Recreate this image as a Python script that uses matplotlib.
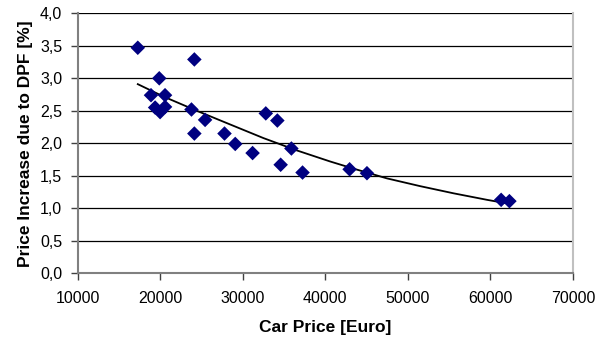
import matplotlib
matplotlib.use("Agg")
import matplotlib.pyplot as plt
from matplotlib.ticker import FuncFormatter

plt.rcParams['font.family'] = ['Liberation Sans', 'DejaVu Sans']

# car price [Euro] vs. price increase due to DPF [%]
car_price = [17300, 18900, 19900, 19400, 20000, 20600, 20600, 23800, 24150,
             24150, 25450, 27800, 29100, 31200, 32800, 34200, 34600, 35900,
             37250, 42950, 45050, 61300, 62300]
price_increase = [3.47, 2.74, 3.00, 2.55, 2.48, 2.56, 2.74, 2.52, 3.29,
                  2.15, 2.36, 2.15, 1.99, 1.85, 2.46, 2.35, 1.67, 1.92,
                  1.55, 1.60, 1.54, 1.13, 1.11]

# trendline
trend_x = [17300, 20400, 24450, 28480, 32520, 36570, 40600, 43430, 47480,
           51520, 55560, 59600, 62240]
trend_y = [2.91, 2.72, 2.50, 2.29, 2.08, 1.89, 1.72, 1.61, 1.46,
           1.34, 1.23, 1.13, 1.07]

x_ticks = [10000, 20000, 30000, 40000, 50000, 60000, 70000]
y_ticks = [0.0, 0.5, 1.0, 1.5, 2.0, 2.5, 3.0, 3.5, 4.0]

fig = plt.figure(figsize=(6.01, 3.45), dpi=100)
ax = fig.add_axes([77.5 / 601, 1 - 273.3 / 345, (573 - 77.5) / 601, (273.3 - 13.3) / 345])

ax.plot(trend_x, trend_y, color='black', lw=1.3, zorder=3)

ax.scatter(car_price, price_increase, marker='D', s=55, color='#000080',
           edgecolors='none', zorder=4)

ax.set_xlim(10000, 70000)
ax.set_ylim(0, 4)
ax.set_xticks(x_ticks)
ax.set_yticks(y_ticks)
ax.yaxis.set_major_formatter(FuncFormatter(lambda v, p: ('%.1f' % v).replace('.', ',')))
ax.grid(axis='y', color='black', lw=0.9)
ax.set_axisbelow(True)

for s in ['left', 'bottom']:
    ax.spines[s].set_color('#808080')
    ax.spines[s].set_linewidth(1.5)
ax.spines['right'].set_color('#c0c0c0')
ax.spines['right'].set_linewidth(1.5)
ax.spines['top'].set_visible(False)

ax.tick_params(axis='both', direction='out', length=5, width=1, color='#404040',
               labelsize=11.5, pad=6)
ax.tick_params(axis='x', pad=8)

ax.set_xlabel('Car Price [Euro]', fontsize=12.5, fontweight='bold', labelpad=10)
ax.set_ylabel('Price Increase due to DPF [%]', fontsize=12.5, fontweight='bold', labelpad=5)

fig.savefig('out.png', dpi=100)
